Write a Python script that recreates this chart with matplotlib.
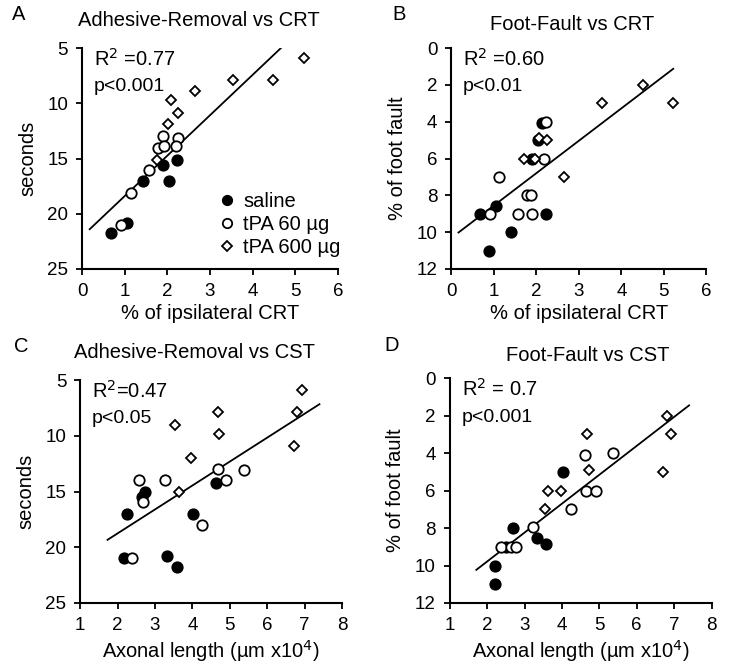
import matplotlib

matplotlib.use("Agg")

import matplotlib.pyplot as plt  # noqa: E402
from matplotlib.lines import Line2D  # noqa: E402

plt.rcParams["font.family"] = ["Liberation Sans", "DejaVu Sans"]
plt.rcParams["font.size"] = 13

# ---------------------------------------------------------------------------
# Data
# ---------------------------------------------------------------------------

# A: Adhesive-Removal vs CRT
a_saline_x = [0.68, 1.05, 1.42, 1.89, 2.04, 2.22]
a_saline_y = [21.75, 20.8, 17.0, 15.6, 17.0, 15.1]
a_tpa60_x = [0.91, 1.14, 1.57, 1.79, 1.91, 1.93, 2.24, 2.20]
a_tpa60_y = [21.06, 18.1, 16.0, 14.0, 13.0, 13.9, 13.1, 13.9]
a_tpa600_x = [1.75, 2.01, 2.08, 2.24, 2.65, 3.55, 4.48, 5.20]
a_tpa600_y = [15.1, 11.9, 9.7, 10.9, 8.9, 7.9, 7.9, 5.9]
a_fit = (-3.66, 22.06, 0.18, 4.66)  # slope, intercept, x from, x to

# B: Foot-Fault vs CRT
b_saline_x = [0.67, 1.05, 0.88, 1.41, 2.22, 1.90, 2.03, 2.14]
b_saline_y = [9.0, 8.6, 11.0, 10.0, 9.0, 6.05, 5.0, 4.05]
b_tpa60_x = [0.90, 1.12, 1.57, 1.78, 1.88, 1.90, 2.18, 2.22]
b_tpa60_y = [9.0, 7.0, 9.0, 8.0, 8.0, 9.0, 6.05, 4.0]
b_tpa600_x = [1.72, 1.98, 2.06, 2.24, 2.65, 3.55, 4.51, 5.22]
b_tpa600_y = [6.05, 6.05, 4.9, 5.0, 7.0, 3.0, 2.0, 3.0]
b_fit = (-1.762, 10.32, 0.17, 5.22)

# C: Adhesive-Removal vs CST
c_saline_x = [2.18, 2.25, 2.65, 2.74, 3.32, 3.59, 4.03, 4.63]
c_saline_y = [21.0, 17.0, 15.5, 15.0, 20.8, 21.8, 17.0, 14.25]
c_tpa60_x = [2.38, 2.58, 2.69, 3.26, 4.26, 4.68, 4.91, 5.37]
c_tpa60_y = [21.0, 14.0, 15.9, 14.0, 18.0, 13.0, 14.0, 13.1]
c_tpa600_x = [3.54, 3.63, 3.96, 4.68, 4.72, 6.71, 6.80, 6.93]
c_tpa600_y = [9.0, 15.0, 12.0, 7.9, 9.85, 10.9, 7.9, 5.85]
c_fit = (-2.148, 23.05, 1.73, 7.40)

# D: Foot-Fault vs CST
d_saline_x = [2.20, 2.22, 2.51, 2.69, 3.32, 3.56, 4.02]
d_saline_y = [11.0, 10.0, 9.0, 8.0, 8.55, 8.85, 5.0]
d_tpa60_x = [2.38, 2.65, 2.78, 3.23, 4.23, 4.61, 4.64, 4.90, 5.37]
d_tpa60_y = [9.0, 9.0, 9.0, 7.95, 7.0, 4.08, 6.0, 6.0, 4.0]
d_tpa600_x = [3.54, 3.63, 3.97, 4.66, 4.72, 6.71, 6.80, 6.93]
d_tpa600_y = [7.0, 6.0, 6.0, 2.96, 4.9, 5.0, 2.0, 2.96]
d_fit = (-1.543, 12.87, 1.71, 7.40)

group_labels = ["saline", "tPA 60 \u00b5g", "tPA 600 \u00b5g"]

# ---------------------------------------------------------------------------
# Drawing helpers
# ---------------------------------------------------------------------------

STYLES = [
    dict(marker="o", ms=7.5, mfc="black", mec="black", mew=1.3),
    dict(marker="o", ms=7.5, mfc="white", mec="black", mew=1.3),
    dict(marker="D", ms=5.2, mfc="white", mec="black", mew=1.3),
]


def draw_panel(ax, groups, fit, xlim, xticks, ylim, yticks):
    slope, icpt, x0, x1 = fit
    ax.plot([x0, x1], [slope * x0 + icpt, slope * x1 + icpt],
            color="black", lw=1.3, zorder=1)
    for (gx, gy), st in zip(groups, STYLES):
        ax.plot(gx, gy, ls="none", zorder=2, **st)
    ax.set_xlim(*xlim)
    ax.set_ylim(*ylim)
    ax.set_xticks(xticks)
    ax.set_yticks(yticks)
    for side in ("top", "right"):
        ax.spines[side].set_visible(False)
    for side in ("left", "bottom"):
        ax.spines[side].set_linewidth(1.5)
    ax.tick_params(direction="out", length=4, width=1.3, labelsize=13.5, pad=6)
    ax.set_facecolor("none")


fig = plt.figure(figsize=(7.29, 6.69), dpi=100)

ax_a = fig.add_axes([0.1125, 0.598, 0.351, 0.330])
ax_b = fig.add_axes([0.619, 0.598, 0.350, 0.330])
ax_c = fig.add_axes([0.110, 0.0987, 0.359, 0.333])
ax_d = fig.add_axes([0.617, 0.0987, 0.359, 0.336])

draw_panel(ax_a, [(a_saline_x, a_saline_y), (a_tpa60_x, a_tpa60_y),
                  (a_tpa600_x, a_tpa600_y)], a_fit,
           (0, 6), range(0, 7), (25, 5), range(5, 26, 5))
draw_panel(ax_b, [(b_saline_x, b_saline_y), (b_tpa60_x, b_tpa60_y),
                  (b_tpa600_x, b_tpa600_y)], b_fit,
           (0, 6), range(0, 7), (12, 0), range(0, 13, 2))
draw_panel(ax_c, [(c_saline_x, c_saline_y), (c_tpa60_x, c_tpa60_y),
                  (c_tpa600_x, c_tpa600_y)], c_fit,
           (1, 8), range(1, 9), (25, 5), range(5, 26, 5))
draw_panel(ax_d, [(d_saline_x, d_saline_y), (d_tpa60_x, d_tpa60_y),
                  (d_tpa600_x, d_tpa600_y)], d_fit,
           (1, 8), range(1, 9), (12, 0), range(0, 13, 2))

# axis labels
for ax, ylab in zip([ax_a, ax_b, ax_c, ax_d],
                    ["seconds", "% of foot fault", "seconds", "% of foot fault"]):
    ax.set_ylabel(ylab, fontsize=14.5, labelpad=7)
ax_a.set_xlabel("% of ipsilateral CRT", fontsize=14.5, labelpad=3)
ax_b.set_xlabel("% of ipsilateral CRT", fontsize=14.5, labelpad=3)
ax_c.set_xlabel("Axonal length (\u00b5m x10$^4$)", fontsize=14.5, labelpad=3)
ax_d.set_xlabel("Axonal length (\u00b5m x10$^4$)", fontsize=14.5, labelpad=3)

# titles, placed in figure pixels (centre x, centre y)
titles = ["Adhesive-Removal vs CRT", "Foot-Fault vs CRT",
          "Adhesive-Removal vs CST", "Foot-Fault vs CST"]
title_pos = [(199, 21), (572, 25), (195, 352), (588, 355)]
for title, (x, y) in zip(titles, title_pos):
    fig.text(x / 729, 1 - y / 669, title, fontsize=14.5,
             ha="center", va="center")

# panel letters
for letter, (x, y) in zip("ABCD", [(12, 14), (392, 15), (14, 346), (384, 345)]):
    fig.text(x / 729, 1 - y / 669, letter, fontsize=14.5, va="center")

# statistics
stats = [("R$^2$ =0.77", "p<0.001"), ("R$^2$ =0.60", "p<0.01"),
         ("R$^2$=0.47", "p<0.05"), ("R$^2$ = 0.7", "p<0.001")]
for ax, (r2, p) in zip([ax_a, ax_b, ax_c, ax_d], stats):
    ax.text(0.045, 1.0, r2, transform=ax.transAxes, fontsize=14.5,
            va="top", ha="left")
    ax.text(0.045, 0.865, p, transform=ax.transAxes, fontsize=14,
            va="top", ha="left")

# legend in panel A
handles = [Line2D([], [], ls="none", **dict(st, ms=st["ms"] * 0.9))
           for st in STYLES]
ax_a.legend(handles, group_labels, loc="upper left", frameon=False,
            fontsize=14.5, handlelength=0.7, handletextpad=0.45,
            labelspacing=0.2, borderaxespad=0, borderpad=0,
            bbox_to_anchor=(0.54, 0.35))

fig.savefig("out.png", dpi=100)
